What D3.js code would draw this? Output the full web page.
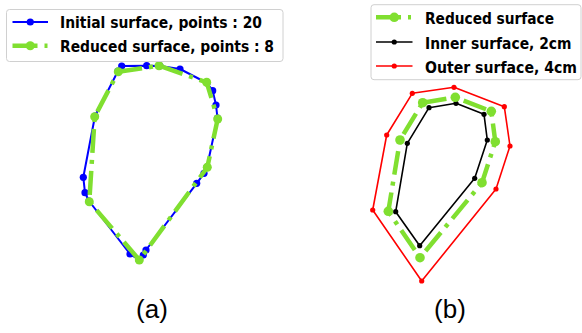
<!DOCTYPE html>
<html>
<head>
<meta charset="utf-8">
<script src="https://cdn.jsdelivr.net/npm/d3@7"></script>
<style>
  html, body { margin: 0; padding: 0; background: #fff; }
  svg { display: block; }
</style>
</head>
<body>
<svg id="chart" width="582" height="333"></svg>
<script>
// Panel (a): original contour (20 points) and its reduced version (8 points)
const initialSurface = [
  [51.7, 204], [76.7, 204.3], [90, 204], [110, 201], [137, 187],
  [142.7, 179.3], [146, 165], [147.5, 152], [137, 103], [134, 96.7],
  [126.7, 86.7], [76, 20], [73.3, 15], [69, 10], [60, 16],
  [19, 69], [15, 77.3], [13.3, 92.7], [25, 154], [48, 199]
];
const reducedSurfaceA = [
  [48.3, 198.3], [89, 204.3], [136.7, 187.7], [147.7, 151],
  [137.3, 102.7], [69.3, 10], [19.3, 68.3], [24.7, 153.3]
];

// Panel (b): reduced contour with inner (2cm) and outer (4cm) offsets
const reducedSurfaceB = [
  [62.7, 187.3], [95.3, 192.7], [131.3, 178.7], [135.3, 148.3],
  [122, 107.3], [60, 32.3], [28.3, 78.7], [40, 150]
];
const innerSurface = [
  [69, 182.3], [96, 186.7], [124, 175.7], [127.3, 150],
  [114.7, 111.7], [59.7, 44.3], [35.7, 78.3], [47.3, 146.7]
];
const outerSurface = [
  [52.3, 196.7], [94, 202.7], [144.3, 183.3], [150, 144],
  [136, 101], [61.7, 9], [12.7, 80], [26.7, 155]
];

const legendA = ["Initial surface, points : 20", "Reduced surface, points : 8"];
const legendB = ["Reduced surface", "Inner surface, 2cm", "Outer surface, 4cm"];
const panelLabels = ["(a)", "(b)"];

const GREEN = "#80df30";
const svg = d3.select("#chart");

const xA = d3.scaleLinear().domain([0, 150]).range([70, 220]);
const yA = d3.scaleLinear().domain([0, 200]).range([270, 70]);
const xB = d3.scaleLinear().domain([0, 150]).range([360, 510]);
const yB = d3.scaleLinear().domain([0, 200]).range([290, 90]);

function closedLine(x, y) {
  return d3.line().x(d => x(d[0])).y(d => y(d[1])).curve(d3.curveLinearClosed);
}

function drawContour(g, pts, x, y, style) {
  g.append("path")
    .datum(pts)
    .attr("d", closedLine(x, y))
    .attr("fill", "none")
    .attr("stroke", style.color)
    .attr("stroke-width", style.width)
    .attr("stroke-dasharray", style.dash || null)
    .attr("stroke-linejoin", "round");
  g.selectAll(null)
    .data(pts)
    .join("circle")
    .attr("cx", d => x(d[0]))
    .attr("cy", d => y(d[1]))
    .attr("r", style.r)
    .attr("fill", style.color);
}

const blueStyle = { color: "#0000ff", width: 2, r: 3.6 };
const greenStyleA = { color: GREEN, width: 4.5, r: 4.5, dash: "24,7,4,7" };
const greenStyleB = { color: GREEN, width: 4.5, r: 4.8, dash: "24,7,4,7" };
const blackStyle = { color: "#000000", width: 1.6, r: 2.6 };
const redStyle = { color: "#ff0000", width: 1.6, r: 2.6 };

// panel (a)
const gA = svg.append("g");
drawContour(gA, initialSurface, xA, yA, blueStyle);
drawContour(gA, reducedSurfaceA, xA, yA, greenStyleA);

// panel (b)
const gB = svg.append("g");
drawContour(gB, outerSurface, xB, yB, redStyle);
drawContour(gB, innerSurface, xB, yB, blackStyle);
drawContour(gB, reducedSurfaceB, xB, yB, greenStyleB);

// legends
function drawLegend(box, rows) {
  const g = svg.append("g");
  g.append("rect")
    .attr("x", box.x).attr("y", box.y)
    .attr("width", box.w).attr("height", box.h)
    .attr("rx", 3)
    .attr("fill", "#ffffff").attr("fill-opacity", 0.8)
    .attr("stroke", "#d0d0d0").attr("stroke-width", 1);
  rows.forEach(r => {
    g.append("line")
      .attr("x1", box.lx1).attr("x2", r.style.dash ? box.lx2 + 0.5 : box.lx2)
      .attr("y1", r.y).attr("y2", r.y)
      .attr("stroke", r.style.color)
      .attr("stroke-width", r.style.width)
      .attr("stroke-dasharray", r.style.dash ? "25,7,3,7" : null);
    g.append("circle")
      .attr("cx", (box.lx1 + box.lx2) / 2).attr("cy", r.y)
      .attr("r", r.style.r)
      .attr("fill", r.style.color);
    g.append("text")
      .attr("x", box.tx).attr("y", r.baseline)
      .attr("font-family", "'Liberation Sans Narrow', 'DejaVu Sans Condensed', 'Liberation Sans', sans-serif")
      .attr("font-weight", "bold")
      .attr("font-size", 16)
      .attr("fill", "#000")
      .attr("textLength", r.width)
      .attr("lengthAdjust", "spacingAndGlyphs")
      .text(r.label);
  });
}

drawLegend(
  { x: 6.5, y: 9.5, w: 276.5, h: 52, lx1: 12.5, lx2: 48, tx: 60 },
  [
    { label: legendA[0], y: 22, baseline: 28.3, width: 202, style: blueStyle },
    { label: legendA[1], y: 45.7, baseline: 52, width: 214, style: greenStyleA }
  ]
);

drawLegend(
  { x: 371, y: 4.7, w: 210, h: 75, lx1: 376, lx2: 412.5, tx: 425 },
  [
    { label: legendB[0], y: 17.3, baseline: 23.8, width: 129, style: greenStyleB },
    { label: legendB[1], y: 42, baseline: 48.5, width: 146.5, style: blackStyle },
    { label: legendB[2], y: 66, baseline: 72.5, width: 152, style: redStyle }
  ]
);

// panel captions
svg.selectAll("text.caption")
  .data(panelLabels)
  .join("text")
  .attr("class", "caption")
  .attr("x", (d, i) => i === 0 ? 152 : 450)
  .attr("y", 318)
  .attr("text-anchor", "middle")
  .attr("font-family", "'Liberation Sans', Arial, sans-serif")
  .attr("font-size", 26)
  .attr("fill", "#000")
  .text(d => d);
</script>
</body>
</html>
